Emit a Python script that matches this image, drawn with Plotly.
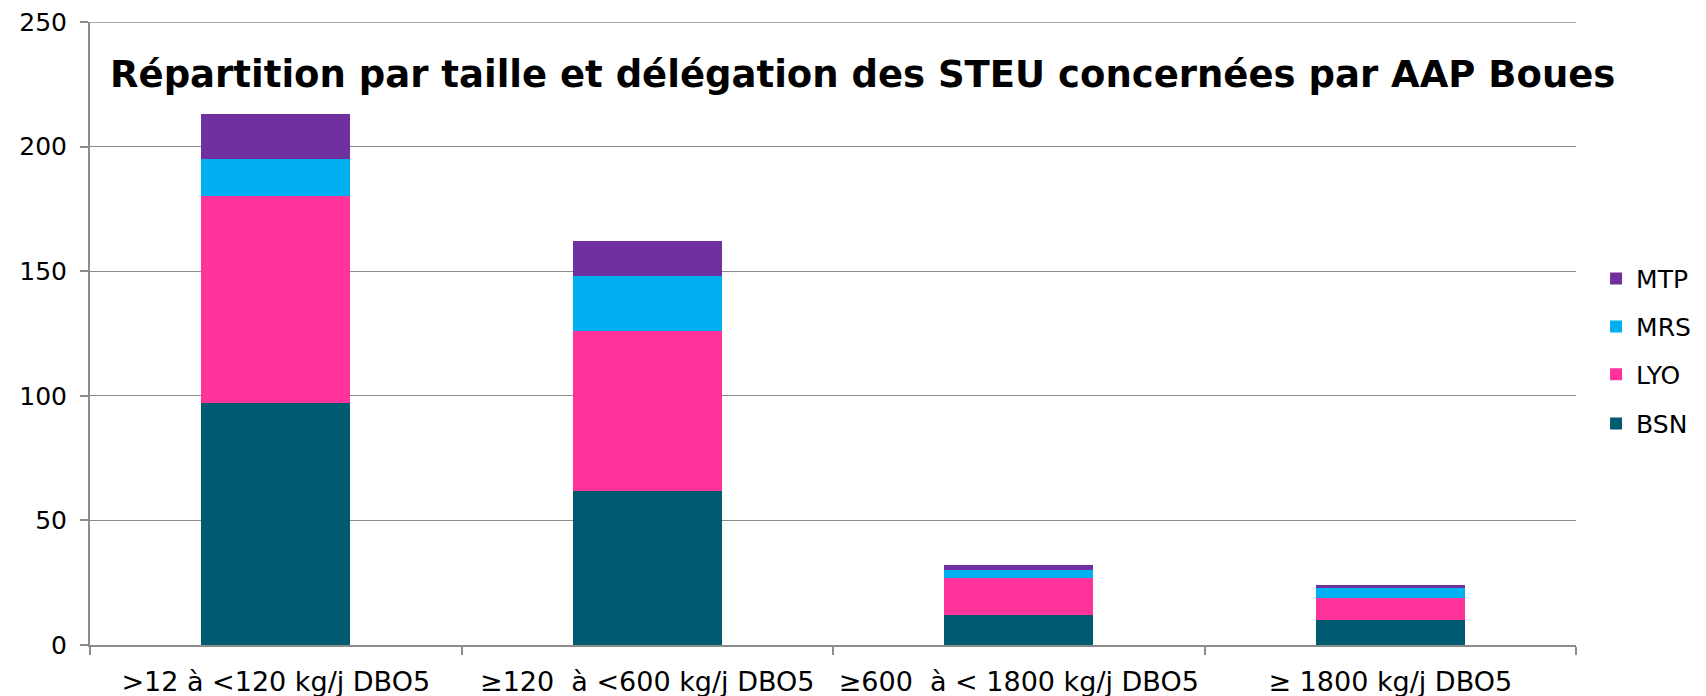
import plotly.graph_objects as go

categories = [">12 à <120 kg/j DBO5", "≥120  à <600 kg/j DBO5", "≥600  à < 1800 kg/j DBO5", "≥ 1800 kg/j DBO5"]
bsn = [97, 62, 12, 10]
lyo = [83, 64, 15, 9]
mrs = [15, 22, 3, 4]
mtp = [18, 14, 2, 1]
y_ticks = [0, 50, 100, 150, 200, 250]

series = [("BSN", bsn, "#005B70", "legend4"), ("LYO", lyo, "#FF3399", "legend3"),
          ("MRS", mrs, "#00B0F0", "legend2"), ("MTP", mtp, "#7030A0", "legend")]

fig = go.Figure()
for name, vals, col, leg in series:
    fig.add_trace(go.Bar(x=categories, y=vals, name=name, marker_color=col,
                         marker_line_width=0, legend=leg))

legend_style = dict(x=1.0135, xanchor="left", yanchor="middle",
                    font=dict(size=25, family="DejaVu Sans", color="black"), bgcolor="rgba(0,0,0,0)")
fig.update_layout(
    barmode="stack",
    bargap=0.6,
    width=1706, height=696,
    margin=dict(l=82, r=138, t=14, b=59, autoexpand=False),
    paper_bgcolor="white", plot_bgcolor="white",
    font=dict(family="DejaVu Sans", color="black", size=25),
    title=dict(text="<b>Répartition par taille et délégation des STEU concernées par AAP Boues</b>",
               x=0.501, xanchor="center", y=0.905, yanchor="middle",
               font=dict(family="DejaVu Sans", size=37, color="black")),
    legend=dict(y=0.588, **legend_style),
    legend2=dict(y=0.511, **legend_style),
    legend3=dict(y=0.434, **legend_style),
    legend4=dict(y=0.355, **legend_style),
    showlegend=True,
)
# top gridline (plotly omits the gridline lying on the plot edge)
fig.add_shape(type="line", xref="paper", yref="y", x0=0, x1=1, y0=y_ticks[-1], y1=y_ticks[-1],
              line=dict(color="#8c8c8c", width=1.3), layer="below")
fig.update_yaxes(range=[y_ticks[0], y_ticks[-1]], tickvals=y_ticks, showgrid=True,
                 gridcolor="#8c8c8c", gridwidth=1.3,
                 showline=True, linecolor="#8c8c8c", linewidth=2, ticks="outside", ticklen=8,
                 tickcolor="#8c8c8c", tickwidth=2, zeroline=False, tickfont=dict(size=25),
                 ticklabelstandoff=8, ticklabeloverflow="allow")
fig.update_xaxes(showline=True, linecolor="#8c8c8c", linewidth=2, ticks="outside", ticklen=8,
                 tickcolor="#8c8c8c", tickwidth=2, tickson="boundaries", tickfont=dict(size=27),
                 ticklabelstandoff=12)

fig.write_html("out.html")
